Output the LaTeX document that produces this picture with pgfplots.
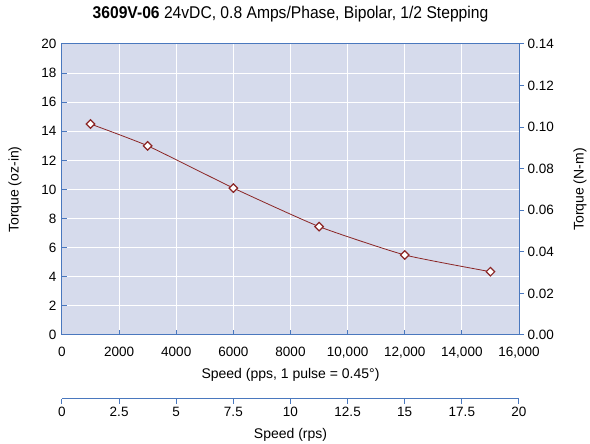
\documentclass[border=0pt]{standalone}
\usepackage{pgfplots}
\pgfplotsset{compat=1.18}
\usepackage{fontspec}
\setmainfont{Liberation Sans}
\newfontfamily\titlefont{Liberation Sans}[FakeStretch=0.92]
\definecolor{bgc}{HTML}{D6DBEC}
\definecolor{axc}{HTML}{4A78BE}
\definecolor{linec}{HTML}{8B2525}

\begin{document}
\begin{tikzpicture}[font=\fontsize{13.5}{16}\selectfont]
\path[use as bounding box] (-62pt,-109pt) rectangle (528pt,335pt);
\pgfplotsset{every axis/.append style={
    scale only axis, width=457pt, height=291pt,
    anchor=south west,
    scaled ticks=false,
    /pgf/number format/assume math mode=true,
    tick label style={font=\fontsize{13.5}{16}\selectfont},
    label style={font=\fontsize{14}{16}\selectfont},
    tick style={axc, line width=1pt},
    major tick length=5pt,
}}

% main axis, torque in oz-in
\begin{axis}[
    at={(0pt,0pt)},
    xmin=0, xmax=16000, ymin=0, ymax=20,
    axis background/.style={fill=bgc},
    axis line style={axc, line width=1pt},
    xtick={0,2000,4000,6000,8000,10000,12000,14000,16000},
    xticklabels={0,2000,4000,6000,8000,{10,000},{12,000},{14,000},{16,000}},
    ytick={0,2,4,6,8,10,12,14,16,18,20},
    xtick pos=bottom, ytick pos=left, tick align=inside,
    xticklabel style={yshift=-9pt},
    yticklabel style={xshift=-2pt},
    grid=major, grid style={white, line width=1pt},
    xlabel={Speed (pps, 1 pulse = 0.45°)},
    xlabel style={at={(axis description cs:0.5,-0.1375)}, anchor=center},
    ylabel={Torque (oz-in)},
    ylabel style={at={(axis description cs:-0.1028,0.5)}, anchor=center},
    title={\titlefont\textbf{3609V-06} 24vDC, 0.8 Amps/Phase, Bipolar, 1/2 Stepping},
    title style={font=\fontsize{17}{19}\selectfont, at={(axis description cs:0.5,1.083)}, anchor=center},
]
\addplot[linec, line width=0.8pt, smooth, tension=0.3,
    mark=square*, mark size=3pt,
    mark options={fill=white, draw=linec, line width=1.2pt, rotate=45}]
    coordinates {
    (1000,14.5)
    (3000,13.0)
    (6000,10.1)
    (9000,7.45)
    (12000,5.5)
    (15000,4.35)
    };
\end{axis}

% right axis, torque in N-m
\begin{axis}[
    at={(0pt,0pt)},
    xmin=0, xmax=16000, ymin=0, ymax=0.14,
    axis x line=none,
    axis y line*=right,
    axis line style={axc, line width=1pt},
    ytick={0,0.02,0.04,0.06,0.08,0.10,0.12,0.14},
    yticklabel style={/pgf/number format/.cd, fixed, fixed zerofill, precision=2},
    tick align=outside,
    ylabel={Torque (N-m)},
    ylabel style={at={(axis description cs:1.1335,0.5)}, anchor=center},
]
\end{axis}

% second speed axis, rps
\begin{axis}[
    at={(0pt,-64pt)},
    height=1pt,
    xmin=0, xmax=20, ymin=0, ymax=1,
    axis y line=none,
    axis x line*=bottom,
    axis line style={axc, line width=1pt},
    xtick={0,2.5,5,7.5,10,12.5,15,17.5,20},
    xticklabels={0,2.5,5,7.5,10,12.5,15,17.5,20},
    tick align=outside,
    xlabel={Speed (rps)},
    xlabel style={at={(axis description cs:0.5,0)}, anchor=center, yshift=-36pt},
]
\end{axis}
\end{tikzpicture}
\end{document}
